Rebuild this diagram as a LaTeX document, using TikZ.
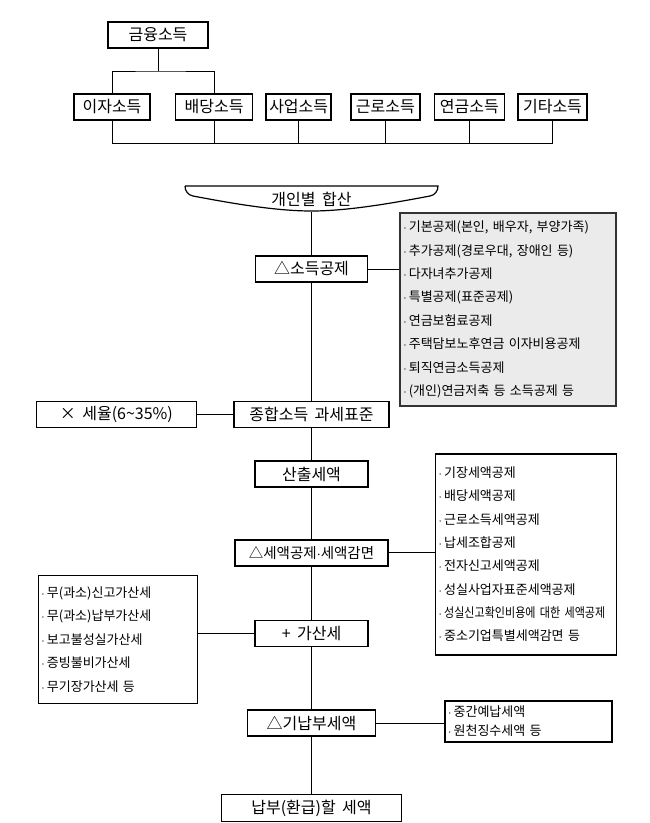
\documentclass[tikz,border=0pt]{standalone}
\usepackage{fontspec}
\setmainfont{Noto Sans CJK KR}[WordSpace=1.8]
\newfontfamily\narrowfont{Noto Sans CJK KR}[FakeStretch=0.85,WordSpace=1.8]
\newcommand\bul{$\cdot$\,}
\usetikzlibrary{positioning}
\begin{document}
\begin{tikzpicture}[x=1pt, y=-1pt,
    box/.style={draw, line width=1.6pt, minimum height=26pt, inner sep=1pt, font=\fontsize{16}{18}\selectfont},
    listbox/.style={draw, line width=1.6pt, inner xsep=3pt, inner ysep=0pt, align=left, font=\fontsize{13}{23.4}\selectfont},
    line/.style={line width=0.9pt}]
    \useasboundingbox (0,0) rectangle (650,823);
    \node (geumyung) [box, minimum width=100pt] at (158,35) {금융소득};
    \node (ija) [box, minimum width=76pt] at (112,107) {이자소득};
    \node (baedang) [box, minimum width=77pt, right=24pt of ija] {배당소득};
    \node (saeop) [box, minimum width=65pt, right=12pt of baedang] {사업소득};
    \node (geunro) [box, minimum width=69pt, right=18pt of saeop] {근로소득};
    \node (yeongeum) [box, minimum width=70pt, right=13pt of geunro] {연금소득};
    \node (gita) [box, minimum width=69pt, right=12pt of yeongeum] {기타소득};
    \coordinate (fork) at (158,71);
    \coordinate (bus) at (0,143);

    \node (hapsan) [minimum width=253pt, minimum height=26pt, inner sep=0pt, font=\fontsize{16}{18}\selectfont] at (311.5,199) {개인별 합산};
    \node (sodeuk) [box, minimum width=112pt, below=43pt of hapsan] {△소득공제};
    \node (pyojun) [box, minimum width=155pt, below=118pt of sodeuk] {종합소득 과세표준};
    \node (sanchul) [box, minimum width=113pt, below=32pt of pyojun] {산출세액};
    \node (segong) [box, minimum width=153pt, below=51pt of sanchul, font=\fontsize{14.5}{18}\selectfont] {△세액공제$\cdot$세액감면};
    \node (gasan) [box, minimum width=113pt, below=53pt of segong] {+ 가산세};
    \node (ginap) [box, minimum width=128pt, below=62pt of gasan] {△기납부세액};
    \node (napbu) [box, minimum width=180pt, minimum height=27pt, below=57pt of ginap] {납부(환급)할 세액};

    \node (seyul) [box, minimum width=160pt, left=36pt of pyojun] {× 세율(6\textasciitilde35\%)};
    \node (gongjeList) [listbox, draw=black!80, fill=black!8, line width=2pt, text width=210pt, minimum height=193pt, right=31pt of sodeuk, yshift=-40.5pt]
        {\bul 기본공제(본인, 배우자, 부양가족)\\\bul 추가공제(경로우대, 장애인 등)\\\bul 다자녀추가공제\\\bul 특별공제(표준공제)\\\bul 연금보험료공제\\\bul 주택담보노후연금 이자비용공제\\\bul 퇴직연금소득공제\\\bul (개인)연금저축 등 소득공제 등};
    \node (gamList) [listbox, text width=175pt, minimum height=201pt, right=46pt of segong, yshift=-1.5pt, font=\fontsize{13}{23.3}\selectfont]
        {\bul 기장세액공제\\\bul 배당세액공제\\\bul 근로소득세액공제\\\bul 납세조합공제\\\bul 전자신고세액공제\\\bul 성실사업자표준세액공제\\\bul {\narrowfont 성실신고확인비용에 대한 세액공제}\\\bul 중소기업특별세액감면 등};
    \node (gasanList) [listbox, text width=153pt, minimum height=128pt, left=56pt of gasan, yshift=-6pt]
        {\bul 무(과소)신고가산세\\\bul 무(과소)납부가산세\\\bul 보고불성실가산세\\\bul 증빙불비가산세\\\bul 무기장가산세 등};
    \node (jungganList) [listbox, text width=161pt, minimum height=41pt, right=68pt of ginap, yshift=1.5pt, font=\fontsize{13}{19}\selectfont]
        {\bul 중간예납세액\\\bul 원천징수세액 등};

    \draw[line width=1.2pt] (185,186) -- (438,186) .. controls (438,191) and (435,195) .. (430,196)
        .. controls (393,203) and (348,211) .. (311.5,211) .. controls (275,211) and (230,203) .. (193,196)
        .. controls (188,195) and (185,191) .. (185,186);

    \draw[line] (geumyung) -- (fork);
    \draw[line] (ija.north) |- (fork) -| (baedang.north);
    \draw[line] (ija.south) |- (bus -| gita.south) -- (gita.south);
    \foreach \n in {baedang,saeop,geunro,yeongeum}
        \draw[line] (\n.south) -- (bus -| \n.south);
    \foreach \a/\b in {hapsan/sodeuk,sodeuk/pyojun,pyojun/sanchul,sanchul/segong,segong/gasan,gasan/ginap,ginap/napbu}
        \draw[line] (\a) -- (\b);
    \draw[line] (seyul) -- (pyojun);
    \draw[line] (sodeuk) -- (sodeuk -| gongjeList.west);
    \draw[line] (segong) -- (segong -| gamList.west);
    \draw[line] (gasan) -- (gasan -| gasanList.east);
    \draw[line] (ginap) -- (ginap -| jungganList.west);
\end{tikzpicture}
\end{document}
